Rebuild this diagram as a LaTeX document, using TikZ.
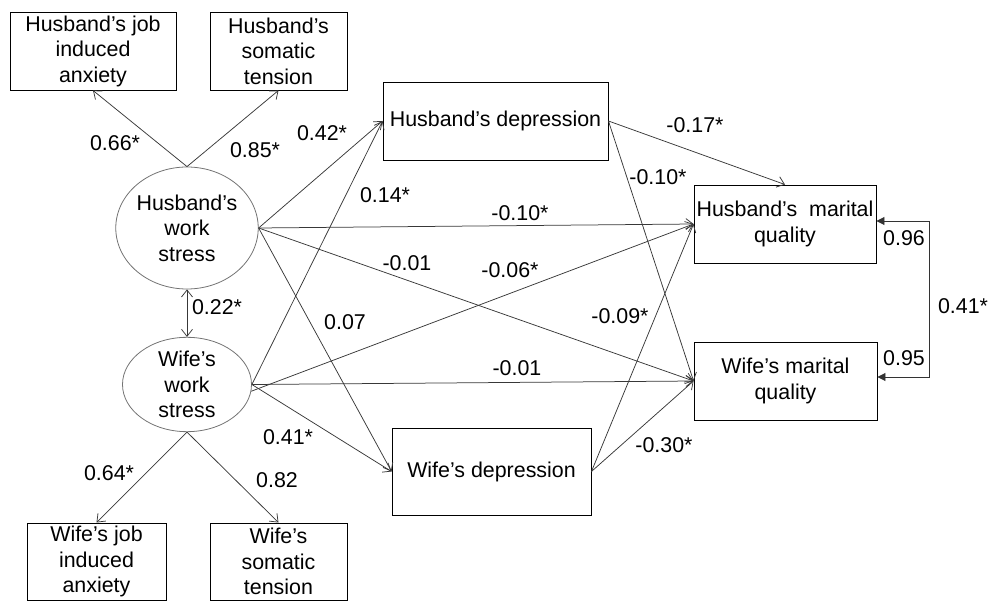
\documentclass[tikz,border=0pt]{standalone}
\usepackage{fontspec}
\setmainfont{Liberation Sans}
\usetikzlibrary{arrows.meta,shapes.geometric}

\begin{document}
\begin{tikzpicture}[x=1pt,y=-1pt,
  font=\fontsize{21.4}{25.5}\selectfont,
  box/.style={draw=black,line width=0.9pt,rectangle,align=center,inner sep=0pt},
  latent/.style={draw=black!55,line width=0.8pt,ellipse,align=center,inner sep=0pt},
  arr/.style={draw=black!78,line width=0.75pt,-{Straight Barb[length=7pt,width=11pt]}},
  biarr/.style={draw=black!78,line width=0.75pt,{Straight Barb[length=7pt,width=11pt]}-{Straight Barb[length=7pt,width=11pt]}},
  corr/.style={draw=black!80,line width=0.9pt,{Triangle[length=8pt,width=8pt]}-{Triangle[length=8pt,width=8pt]}},
  lab/.style={inner sep=0pt}]

\useasboundingbox (0,0) rectangle (991,601);

% indicator boxes
\node[box,minimum width=166pt,minimum height=78pt] (hja) at (93,51) {Husband’s job\\induced\\anxiety};
\node[box,minimum width=137pt,minimum height=78pt] (hso) at (278.5,51) {Husband’s\\somatic\\tension};
\node[box,minimum width=139pt,minimum height=77pt] (wja) at (96.5,561.5) {Wife’s job\\induced\\anxiety};
\node[box,minimum width=137pt,minimum height=77pt] (wso) at (278.5,561.5) {Wife’s\\somatic\\tension};

% latent work stress
\node[latent,minimum width=129pt,minimum height=122pt] (hws) at (187,228) {Husband’s\\work\\stress};
\node[latent,minimum width=129pt,minimum height=87pt] (wws) at (187,384.5) {Wife’s\\work\\stress};

% depression and marital quality
\node[box,minimum width=225pt,minimum height=78pt] (hdep) at (495.5,121) {Husband’s depression};
\node[box,minimum width=199pt,minimum height=87pt] (wdep) at (491.5,471.5) {Wife’s depression};
\node[box,minimum width=182pt,minimum height=78pt] (hmq) at (785,224) {Husband’s\ \ marital\\quality};
\node[box,minimum width=183pt,minimum height=78pt] (wmq) at (785.5,381) {Wife’s marital\\quality};

% measurement paths
\draw[arr] (hws.north) -- (hja.south);
\draw[arr] (hws.north) -- (hso.south);
\draw[arr] (wws.south) -- (wja.north);
\draw[arr] (wws.south) -- (wso.north);
\draw[biarr] (hws.south) -- (wws.north);

% structural paths
\draw[arr] (hws.east) -- (hdep.west);
\draw[arr] (wws.east) -- (hdep.west);
\draw[arr] (hws.east) -- (hmq.west);
\draw[arr] (hws.east) -- (wmq.west);
\draw[arr] (wws.-6) -- (hmq.west);
\draw[arr] (wws.east) -- (wmq.west);
\draw[arr] (hws.east) -- (wdep.west);
\draw[arr] (wws.east) -- (wdep.west);
\draw[arr] (hdep.east) -- (hmq.north);
\draw[arr] (hdep.east) -- (wmq.west);
\draw[arr] (wdep.east) -- (hmq.west);
\draw[arr] (wdep.east) -- (wmq.west);

% residual correlation of marital quality
\coordinate (ct) at (929,221);
\coordinate (cb) at (929,377);
\draw[corr] (hmq.east |- ct) -- (ct) -- (cb) -- (wmq.east |- cb);

% coefficients
\node[lab] (l1) at (115,143) {0.66*};
\node[lab] (l2) at (255,150) {0.85*};
\node[lab] (l3) at (322,133) {0.42*};
\node[lab] (l4) at (385,195) {0.14*};
\node[lab] (l5) at (520,213) {-0.10*};
\node[lab] (l6) at (407,263) {-0.01};
\node[lab] (l7) at (510,270) {-0.06*};
\node[lab] (l8) at (345,322) {0.07};
\node[lab] (l9) at (217,307) {0.22*};
\node[lab] (l10) at (517,368) {-0.01};
\node[lab] (l11) at (288,437) {0.41*};
\node[lab] (l12) at (109,473) {0.64*};
\node[lab] (l13) at (277,480) {0.82};
\node[lab] (l14) at (695,125) {-0.17*};
\node[lab] (l15) at (658,177) {-0.10*};
\node[lab] (l16) at (620,316) {-0.09*};
\node[lab] (l17) at (664,445) {-0.30*};
\node[lab] (l18) at (904,238) {0.96};
\node[lab] (l19) at (904,358) {0.95};
\node[lab] (l20) at (963,306) {0.41*};
\end{tikzpicture}
\end{document}
